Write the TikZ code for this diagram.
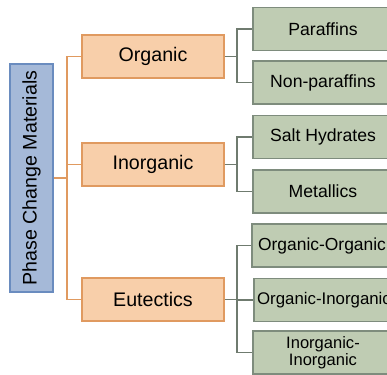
\documentclass[tikz,border=0pt]{standalone}
\usepackage{fontspec}
\setmainfont{Liberation Sans}
\usetikzlibrary{positioning}

\definecolor{rootfill}{HTML}{A5B9D8}
\definecolor{rootline}{HTML}{6A8CBF}
\definecolor{catfill}{HTML}{F8CFAA}
\definecolor{catline}{HTML}{E09A60}
\definecolor{subfill}{HTML}{BFCCB3}
\definecolor{subline}{HTML}{7E8C7D}
\definecolor{forkline}{HTML}{6F7B6F}

\begin{document}
\begin{tikzpicture}[x=1bp, y=-1bp,
	rootbox/.style={draw=rootline, fill=rootfill, line width=1.2bp, rotate=90,
		minimum width=228bp, minimum height=43bp, inner sep=0pt,
		font=\fontsize{19.7}{22}\selectfont},
	catbox/.style={draw=catline, fill=catfill, line width=1.2bp,
		minimum width=142bp, minimum height=43bp, inner sep=0pt,
		font=\fontsize{19.7}{22}\selectfont},
	subbox/.style={draw=subline, fill=subfill, line width=1.2bp,
		minimum width=140bp, minimum height=43bp, inner sep=0pt, align=center,
		font=\fontsize{17.7}{19}\selectfont},
	catlink/.style={draw=catline, line width=1.2bp},
	sublink/.style={draw=forkline, line width=1.2bp}]

				\useasboundingbox (0,0) rectangle (387,375);

				% root
				\node [rootbox] (pcm) at (31.5, 178) {Phase Change Materials};

				% categories
				\node [catbox] (org) at (153, 56.5) {Organic};
				\node [catbox] (inorg) at (153, 164.5) {Inorganic};
				\node [catbox] (eut) at (153, 299.5) {Eutectics};

				% sub-categories
				\node [subbox] (par) at (323, 29) {Paraffins};
				\node [subbox] (nonpar) at (323, 82.5) {Non-paraffins};
				\node [subbox] (salt) at (323, 137) {Salt Hydrates};
				\node [subbox] (metal) at (323, 191.5) {Metallics};
				\node [subbox, font=\fontsize{17.5}{19}\selectfont] (oo) at (322, 245.5) {Organic-Organic};
				\node [subbox, font=\fontsize{16.9}{19}\selectfont] (oi) at (324, 300) {Organic-Inorganic};
				\node [subbox, font=\fontsize{16.6}{17.5}\selectfont] (ii) at (323, 352.5) {Inorganic-\\Inorganic};

				\coordinate (trunk) at (67, 178);
				\coordinate (orgfork) at (237, 56.5);
				\coordinate (inorgfork) at (237, 164.5);
				\coordinate (eutfork) at (237, 299.5);

				\draw [catlink] (pcm.south) -- (trunk);
				\draw [catlink] (trunk) |- (org.west);
				\draw [catlink] (trunk) |- (inorg.west);
				\draw [catlink] (trunk) |- (eut.west);

				\draw [sublink] (org.east) -- (orgfork);
				\draw [sublink] (orgfork) |- (par.west);
				\draw [sublink] (orgfork) |- (nonpar.west);

				\draw [sublink] (inorg.east) -- (inorgfork);
				\draw [sublink] (inorgfork) |- (salt.west);
				\draw [sublink] (inorgfork) |- (metal.west);

				\draw [sublink] (eut.east) -- (eutfork);
				\draw [sublink] (eutfork) |- (oo.west);
				\draw [sublink] (eutfork) |- (oi.west);
				\draw [sublink] (eutfork) |- (ii.west);
		\end{tikzpicture}
\end{document}
